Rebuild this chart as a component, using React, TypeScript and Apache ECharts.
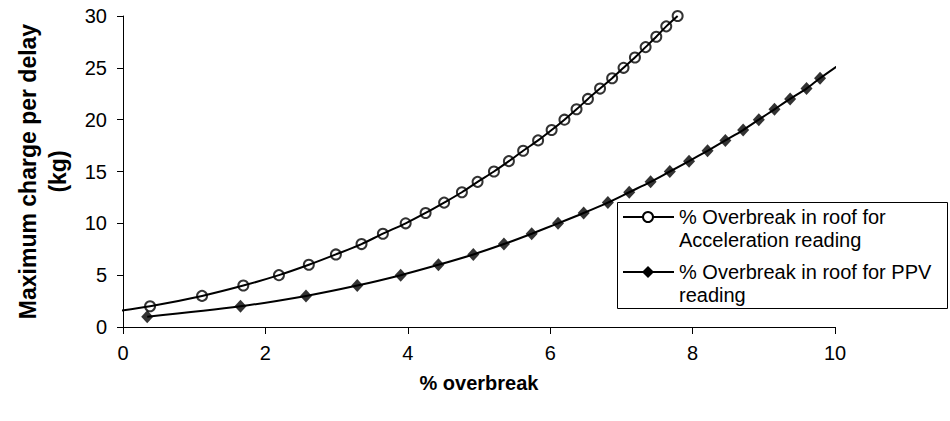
import React, { useEffect, useRef } from "react";
import * as echarts from "echarts";

// Acceleration-based readings: % overbreak (x) vs max charge per delay (y)
const accCharge = [2, 3, 4, 5, 6, 7, 8, 9, 10, 11, 12, 13, 14, 15, 16, 17, 18, 19, 20, 21, 22, 23, 24, 25, 26, 27, 28, 29, 30];
const accOverbreak = [0.38, 1.11, 1.69, 2.19, 2.61, 2.99, 3.35, 3.65, 3.97, 4.25, 4.51, 4.76, 4.98, 5.21, 5.42, 5.62, 5.83, 6.02, 6.2, 6.37, 6.53, 6.7, 6.87, 7.03, 7.19, 7.34, 7.49, 7.63, 7.79];
// PPV-based readings
const ppvCharge = [1, 2, 3, 4, 5, 6, 7, 8, 9, 10, 11, 12, 13, 14, 15, 16, 17, 18, 19, 20, 21, 22, 23, 24];
const ppvOverbreak = [0.34, 1.65, 2.57, 3.29, 3.9, 4.43, 4.92, 5.35, 5.74, 6.11, 6.47, 6.81, 7.11, 7.41, 7.68, 7.95, 8.21, 8.46, 8.71, 8.93, 9.15, 9.37, 9.6, 9.79];
// trendline extensions
const accTrendStart = [-0.07, 1.55];
const ppvTrendEnd = [10.08, 25.4];

const xRange = [0, 10];
const xStep = 2;
const yRange = [0, 30];
const yStep = 5;

const xTitle = "% overbreak";
const yTitle = "Maximum charge per delay\n(kg)";
const legendLabels = ["% Overbreak in roof for\nAcceleration reading", "% Overbreak in roof for PPV\nreading"];

const FONT = "'Liberation Sans', Arial, Helvetica, sans-serif";

export default function App() {
  const ref = useRef<HTMLDivElement>(null);
  useEffect(() => {
    if (!ref.current) return;
    const chart = echarts.init(ref.current, undefined, { renderer: "svg" });
    const accPts = accOverbreak.map((x, i) => [x, accCharge[i]]);
    const ppvPts = ppvOverbreak.map((x, i) => [x, ppvCharge[i]]);

    const lx = 617, ly = 202;
    const legendGraphic: any[] = [
      { type: "rect", shape: { x: lx + 0.5, y: ly + 0.5, width: 330, height: 106 }, style: { fill: "#fff", stroke: "#000", lineWidth: 1 }, z: 10 },
      { type: "line", shape: { x1: 623, y1: 217, x2: 674, y2: 217 }, style: { stroke: "#000", lineWidth: 2 }, z: 11 },
      { type: "circle", shape: { cx: 648, cy: 217, r: 5 }, style: { fill: "#fff", stroke: "#000", lineWidth: 2 }, z: 12 },
      { type: "text", x: 679, y: 205, style: { text: legendLabels[0], font: `20px ${FONT}`, fill: "#000", verticalAlign: "top", lineHeight: 23 }, z: 11 },
      { type: "line", shape: { x1: 623, y1: 272, x2: 674, y2: 272 }, style: { stroke: "#000", lineWidth: 2 }, z: 11 },
      { type: "polygon", shape: { points: [[648, 266], [654, 272], [648, 278], [642, 272]] }, style: { fill: "#000" }, z: 12 },
      { type: "text", x: 679, y: 260, style: { text: legendLabels[1], font: `20px ${FONT}`, fill: "#000", verticalAlign: "top", lineHeight: 23 }, z: 11 },
    ];

    chart.setOption({
      animation: false,
      backgroundColor: "#fff",
      grid: { left: 123, top: 16, right: 115, bottom: 94, containLabel: false },
      xAxis: {
        type: "value",
        min: xRange[0],
        max: xRange[1],
        interval: xStep,
        name: xTitle,
        nameLocation: "middle",
        nameGap: 46,
        nameTextStyle: { fontFamily: FONT, fontSize: 20, fontWeight: "bold", color: "#000" },
        splitLine: { show: false },
        axisLine: { onZero: false, lineStyle: { color: "#000", width: 1 } },
        axisTick: { inside: false, length: 7, lineStyle: { color: "#000" } },
        axisLabel: { fontFamily: FONT, fontSize: 20, color: "#000", margin: 16 },
      },
      yAxis: {
        type: "value",
        min: yRange[0],
        max: yRange[1],
        interval: yStep,
        name: yTitle,
        nameLocation: "middle",
        nameGap: 50,
        nameTextStyle: { fontFamily: FONT, fontSize: 23, fontWeight: "bold", color: "#000", lineHeight: 30 },
        splitLine: { show: false },
        axisLine: { show: true, lineStyle: { color: "#000", width: 1 } },
        axisTick: { show: true, inside: false, length: 6, lineStyle: { color: "#000" } },
        axisLabel: { fontFamily: FONT, fontSize: 20, color: "#000", margin: 16 },
      },
      series: [
        {
          type: "line",
          data: [accTrendStart, ...accPts],
          showSymbol: false,
          symbol: "none",
          smooth: 0.3,
          clip: false,
          lineStyle: { color: "#000", width: 2 },
          z: 2,
        },
        {
          type: "scatter",
          data: accPts,
          symbol: "circle",
          symbolSize: 10,
          itemStyle: { color: "rgba(0,0,0,0)", borderColor: "#000", borderWidth: 2 },
          z: 3,
        },
        {
          type: "line",
          data: [...ppvPts, ppvTrendEnd],
          showSymbol: false,
          symbol: "none",
          smooth: 0.3,
          clip: false,
          lineStyle: { color: "#000", width: 2 },
          z: 2,
        },
        {
          type: "scatter",
          data: ppvPts,
          symbol: "diamond",
          symbolSize: [12, 13],
          itemStyle: { color: "#000" },
          z: 3,
        },
      ],
      graphic: legendGraphic,
    });
    return () => chart.dispose();
  }, []);
  return <div ref={ref} style={{ position: "fixed", left: 0, top: 0, width: 950, height: 421 }} />;
}
